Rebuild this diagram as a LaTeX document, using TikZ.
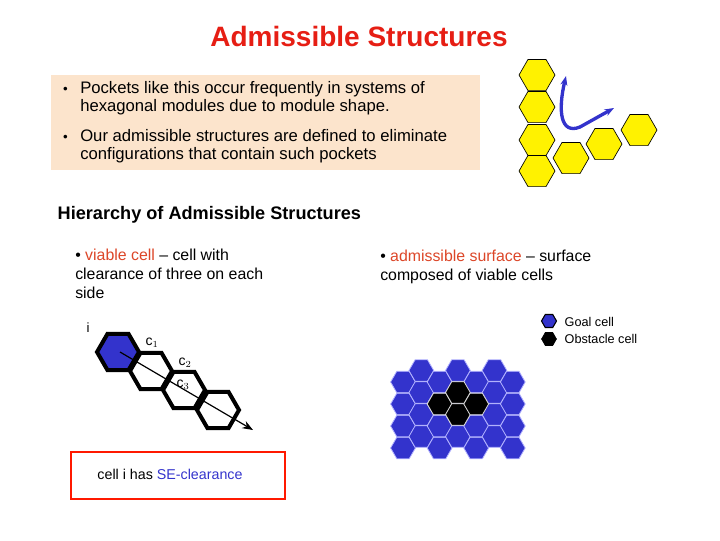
\documentclass[tikz,border=0pt]{standalone}
\usepackage{fontspec}
\setmainfont{Liberation Sans}
\usetikzlibrary{arrows.meta}
\definecolor{peach}{RGB}{252,228,204}
\definecolor{hexblue}{RGB}{51,51,204}
\definecolor{titlered}{RGB}{230,30,20}
\definecolor{linkred}{RGB}{220,70,40}
\tikzset{
 yhex/.style={fill=yellow,draw=black,line width=0.5pt},
 bhex/.style={fill=hexblue,draw=white!70!blue,line width=0.6pt},
 khex/.style={fill=black,draw=white!70!gray,line width=0.6pt},
 thex/.style={draw=black,line width=3pt,line join=miter},
 txt/.style={align=left,anchor=north west,inner sep=0pt,font=\fontsize{12.5}{13.6}\selectfont},
 txtb/.style={align=left,anchor=north west,inner sep=0pt,font=\fontsize{11.9}{14.3}\selectfont},
}
\newcommand{\fhex}[4]{\draw[#1] (#2+#4,#3) -- (#2+#4/2,#3+0.866*#4) -- (#2-#4/2,#3+0.866*#4) -- (#2-#4,#3) -- (#2-#4/2,#3-0.866*#4) -- (#2+#4/2,#3-0.866*#4) -- cycle;}
\newcommand{\bul}{\llap{{\fontsize{10}{10}\selectfont•}\hspace{0.75em}}}
\begin{document}
\begin{tikzpicture}[x=0.75pt,y=-0.75pt]
\useasboundingbox (0,0) rectangle (720,540);
\node[font=\bfseries\fontsize{21}{24}\selectfont,text=titlered] (title) at (359,36) {Admissible Structures};
\fill[peach] (51,75) rectangle (480,170);
\node[txt] (b1) at (80,81) {\bul Pockets like this occur frequently in systems of\\hexagonal modules due to module shape.};
\node[txt] (b2) at (80,129) {\bul Our admissible structures are defined to eliminate\\configurations that contain such pockets};
% yellow pocket
\foreach \x/\y in {537/75,537/107,537/140,537/171,571/158,604/144,639/130}{\fhex{yhex}{\x}{\y}{18}}
\draw[hexblue,line width=2.5pt,{Stealth[length=7pt]}-{Stealth[length=7pt]}] (566,76) .. controls (558,110) and (560,135) .. (580,127) -- (614,108);
\node[font=\bfseries\fontsize{13.6}{15}\selectfont,anchor=west] (hier) at (53,215) {Hierarchy of Admissible Structures};
\node[txtb] (v) at (75,249) {• \textcolor{linkred}{viable cell} – cell with\\clearance of three on each\\side};
\node[txtb] (a) at (380,250) {• \textcolor{linkred}{admissible surface} – surface\\composed of viable cells};
% SE clearance
\foreach \x/\y in {151/371,184/390,218/410}{\fhex{thex,fill=white}{\x}{\y}{21}}
\fhex{thex,fill=hexblue}{118}{352}{21}
\coordinate (ai) at (120,352);
\coordinate (ae) at (253,430);
\draw[line width=0.9pt,-{Stealth[length=8pt]}] (ai) -- (ae);
\node[font=\fontsize{10}{10}\selectfont] (li) at (88,328) {i};
\node[font=\fontsize{10.5}{10}\selectfont] (c1) at (152,343) {c$_1$};
\node[font=\fontsize{10.5}{10}\selectfont] (c2) at (185,363) {c$_2$};
\node[font=\fontsize{10.5}{10}\selectfont] (c3) at (183,385) {c$_3$};
\node[draw=red!80!orange,line width=1.5pt,minimum width=160.5pt,minimum height=35pt,anchor=north west,inner sep=0pt] (box) at (70,451) {};
\node[font=\fontsize{10.7}{11}\selectfont] (bt) at (170,474) {cell i has \textcolor{hexblue}{SE-clearance}};
% legend
\fhex{fill=hexblue,draw=black,line width=0.8pt}{549}{321}{7.5}
\fhex{fill=black,draw=black}{549}{339}{7.5}
\node[anchor=west,font=\fontsize{9.5}{10}\selectfont] (g) at (560,322) {Goal cell};
\node[anchor=west,font=\fontsize{9.5}{10}\selectfont] (o) at (560,339) {Obstacle cell};
% blue grid
\foreach \c in {0,...,6}{
 \pgfmathsetmacro{\xx}{403+18.3*\c}
 \pgfmathsetmacro{\off}{mod(\c,2)==0 ? 382 : 370.5}
 \foreach \r in {0,...,3}{
  \pgfmathsetmacro{\yy}{\off+22*\r}
  \fhex{bhex}{\xx}{\yy}{12.4}
 }}
\foreach \x/\y in {439.6/404,457.9/392.5,457.9/414.5,476.2/404}{\fhex{khex}{\x}{\y}{12.4}}
\end{tikzpicture}
\end{document}
